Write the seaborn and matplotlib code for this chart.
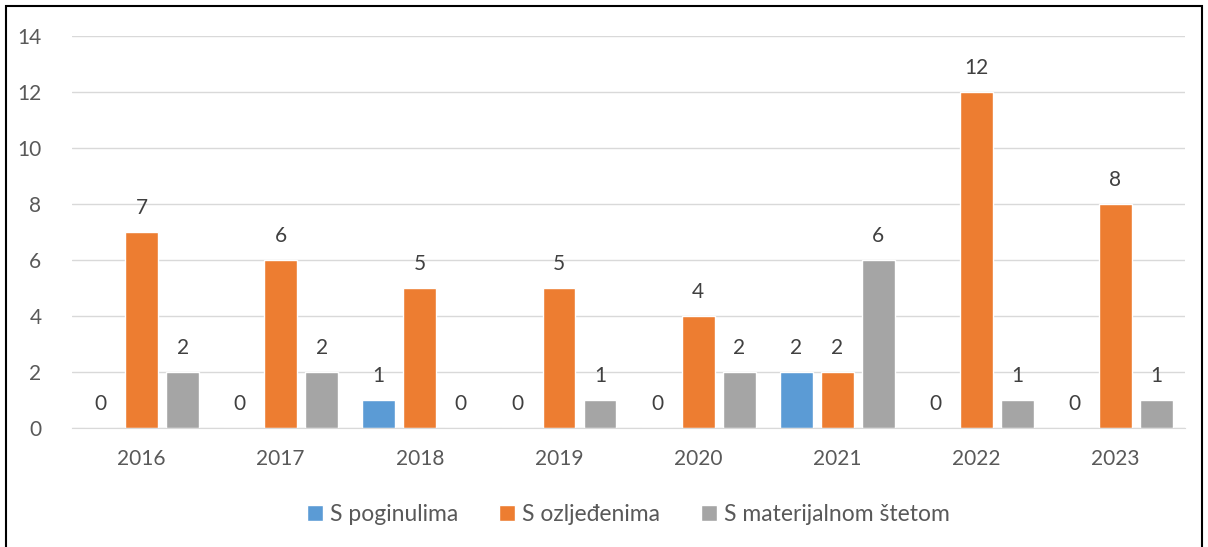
import pandas as pd
import matplotlib.pyplot as plt
import seaborn as sns
from matplotlib.patches import Rectangle

# data
years = ['2016', '2017', '2018', '2019', '2020', '2021', '2022', '2023']
poginuli = [0, 0, 1, 0, 0, 2, 0, 0]
ozlijedeni = [7, 6, 5, 5, 4, 2, 12, 8]
materijalna = [2, 2, 0, 1, 2, 6, 1, 1]
series_names = ['S poginulima', 'S ozljeđenima', 'S materijalnom štetom']
colors = ['#5B9BD5', '#ED7D31', '#A5A5A5']

df = pd.DataFrame({
    'Godina': years * 3,
    'Vrsta': [series_names[0]] * 8 + [series_names[1]] * 8 + [series_names[2]] * 8,
    'Broj': poginuli + ozlijedeni + materijalna,
})

sns.set_style('white')
plt.rcParams['font.family'] = ['Lato', 'DejaVu Sans']
text_col = '#595959'

fig = plt.figure(figsize=(12.08, 5.47), dpi=100)
ax = fig.add_axes([0.0596, 0.2175, 0.9214, 0.7165])

sns.barplot(data=df, x='Godina', y='Broj', hue='Vrsta', palette=colors,
            width=0.885, gap=0.2, ax=ax, saturation=1, legend=True)

for cont in ax.containers:
    ax.bar_label(cont, fmt='%d', padding=10, fontsize=15, color='#404040')

ax.set_ylim(0, 14)
ax.set_yticks(range(0, 15, 2))
ax.set_xlim(-0.5, len(years) - 0.5)
ax.grid(axis='y', color='#D9D9D9', linewidth=1)
ax.set_axisbelow(True)
for s in ['top', 'right', 'left']:
    ax.spines[s].set_visible(False)
ax.spines['bottom'].set_color('#D9D9D9')
ax.tick_params(axis='both', length=0, labelsize=15, labelcolor=text_col)
ax.tick_params(axis='x', pad=15)
ax.tick_params(axis='y', pad=22)
ax.set_xlabel('')
ax.set_ylabel('')

ax.legend(loc='center', bbox_to_anchor=(0.5, -0.22), ncol=3, frameon=False,
          handlelength=0.7, handleheight=0.7, handletextpad=0.3,
          columnspacing=1.8, fontsize=16.5, labelcolor=text_col)

# outer chart border (bottom edge is cut off in the reference)
fig.patches.append(Rectangle((6 / 1208, -0.05), 1196 / 1208, 1.05 - 6 / 547,
                             transform=fig.transFigure, fill=False,
                             edgecolor='black', linewidth=1.5))

fig.savefig('out.png', dpi=100)
